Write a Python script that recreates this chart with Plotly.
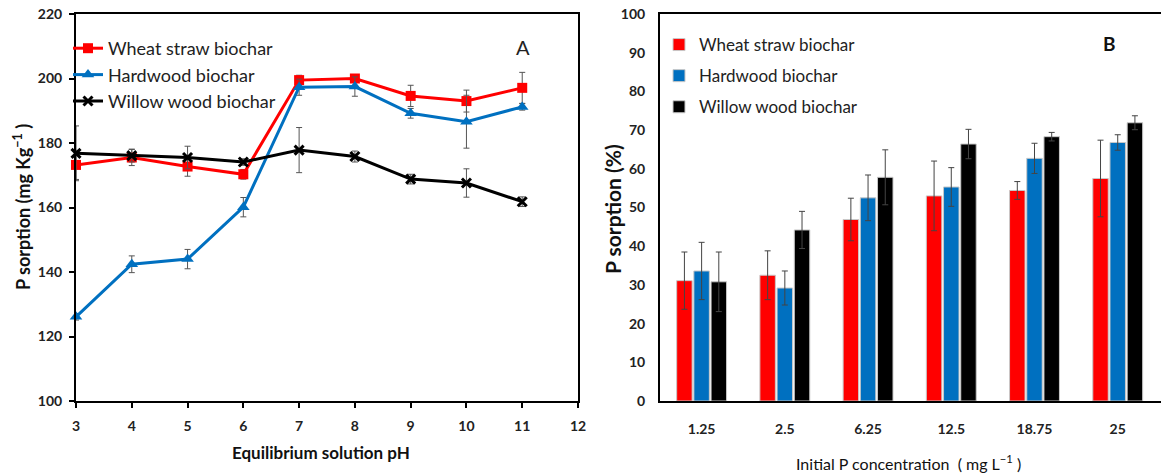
import plotly.graph_objects as go

# ---- Panel A: P sorption vs equilibrium solution pH ----
ph = [3, 4, 5, 6, 7, 8, 9, 10, 11]
wheat_a = [173.2, 175.5, 172.7, 170.3, 199.5, 200.0, 194.6, 193.0, 197.1]
wheat_a_err = [4.5, 2.5, 3.0, 1.5, 1.5, 1.0, 3.3, 3.4, 4.8]
hard_a = [126.1, 142.4, 144.0, 160.1, 197.3, 197.5, 189.2, 186.6, 191.2]
hard_a_err = [1.0, 2.6, 3.0, 3.0, 2.5, 3.0, 1.5, 8.2, 1.0]
willow_a = [176.8, 176.1, 175.5, 174.1, 177.8, 175.8, 168.8, 167.6, 161.8]
willow_a_err = [8.5, 2.0, 3.5, 1.0, 7.0, 1.7, 1.5, 4.4, 1.5]

# ---- Panel B: P sorption (%) vs initial P concentration ----
conc = ["1.25", "2.5", "6.25", "12.5", "18.75", "25"]
wheat_b = [31.1, 32.5, 46.9, 53.0, 54.4, 57.5]
wheat_b_err = [7.4, 6.3, 5.5, 9.0, 2.3, 9.9]
hard_b = [33.6, 29.2, 52.5, 55.3, 62.7, 66.8]
hard_b_err = [7.4, 4.4, 5.9, 5.0, 3.9, 2.0]
willow_b = [30.8, 44.2, 57.8, 66.4, 68.3, 71.9]
willow_b_err = [7.7, 4.8, 7.1, 3.8, 1.1, 1.8]

names = ["Wheat straw biochar", "Hardwood biochar", "Willow wood biochar"]
RED, BLUE, BLACK = "#FF0000", "#0070C0", "#000000"
FONT = "Lato, 'Open Sans', sans-serif"

W, H = 1161, 475
def px_x(p):
    return p / W
def px_y(p):
    return 1 - p / H

fig = go.Figure()

line_specs = [
    (wheat_a, wheat_a_err, RED, "square", 10),
    (hard_a, hard_a_err, BLUE, "triangle-up", 11),
    (willow_a, willow_a_err, BLACK, "x-thin", 9),
]
for (vals, errs, col, sym, sz), nm in zip(line_specs, names):
    fig.add_trace(go.Scatter(
        x=ph, y=vals, name=nm, mode="lines+markers",
        line=dict(color=col, width=3),
        marker=dict(symbol=sym, size=sz, color=col,
                    line=dict(color=col, width=3 if sym == "x-thin" else 0)),
        error_y=dict(type="data", array=errs, visible=True,
                     color="#555555", thickness=1, width=3),
        cliponaxis=False, xaxis="x", yaxis="y", legend="legend",
    ))

bar_specs = [(wheat_b, wheat_b_err, RED), (hard_b, hard_b_err, BLUE),
             (willow_b, willow_b_err, BLACK)]
for i, ((vals, errs, col), nm) in enumerate(zip(bar_specs, names)):
    fig.add_trace(go.Bar(
        x=conc, y=vals, name=nm, legendgroup=f"b{i}",
        marker=dict(color=col, line=dict(color="#C8C8C8", width=1)),
        error_y=dict(type="data", array=errs, visible=True,
                     color="#444444", thickness=1, width=3),
        xaxis="x2", yaxis="y2", legend="legend2",
    ))

tickfont = dict(family=FONT, size=14, color="#222222", weight="bold")
ydom = [px_y(401), px_y(14)]

fig.update_layout(
    width=W, height=H,
    margin=dict(l=0, r=0, t=0, b=0, autoexpand=False),
    paper_bgcolor="white", plot_bgcolor="white",
    font=dict(family=FONT, color="#111111"),
    barmode="group", bargap=0.38, bargroupgap=0.1,
    xaxis=dict(domain=[px_x(76), px_x(578)], range=[3, 12], dtick=1,
               showgrid=False, zeroline=False, showline=True, mirror=True,
               linecolor="black", linewidth=2, ticks="outside", ticklen=5,
               tickcolor="black", tickwidth=2, tickfont=tickfont,
               ticklabelstandoff=6, anchor="y", automargin=False),
    yaxis=dict(domain=ydom, range=[100, 220], dtick=20,
               showgrid=False, zeroline=False, showline=True, mirror=True,
               linecolor="black", linewidth=2, ticks="outside", ticklen=5,
               tickcolor="black", tickwidth=2, tickfont=tickfont,
               ticklabelstandoff=4, anchor="x", automargin=False),
    xaxis2=dict(domain=[px_x(660), 1.0], range=[-0.5, 5.52],
                type="category", categoryorder="array", categoryarray=conc,
                showgrid=False, zeroline=False, showline=True, mirror=True,
                linecolor="black", linewidth=2, ticks="outside", ticklen=14,
                tickcolor="rgba(0,0,0,0)", tickfont=tickfont, anchor="y2",
                automargin=False),
    yaxis2=dict(domain=ydom, range=[0, 100], dtick=10,
                showgrid=False, zeroline=False, showline=True, mirror=True,
                linecolor="black", linewidth=2, ticks="",
                tickfont=tickfont, ticklabelstandoff=10, anchor="x2",
                automargin=False),
    legend=dict(x=px_x(68), y=px_y(30), xanchor="left", yanchor="top",
                bgcolor="rgba(0,0,0,0)", tracegroupgap=0, itemwidth=30,
                font=dict(family=FONT, size=18, color="#222222")),
    legend2=dict(x=px_x(659), y=px_y(27), xanchor="left", yanchor="top",
                 bgcolor="rgba(0,0,0,0)", tracegroupgap=6, itemwidth=30,
                 font=dict(family=FONT, size=17, color="#222222")),
)

ann = [
    dict(text="A", x=px_x(523), y=px_y(47), font=dict(size=20, color="#222222")),
    dict(text="<b>B</b>", x=px_x(1109), y=px_y(43), font=dict(size=19, color="#111111")),
    dict(text="<b>P sorption (mg Kg<sup>−1</sup> )</b>", x=px_x(22), y=px_y(207),
         textangle=-90, font=dict(size=18, color="#111111")),
    dict(text="<b>Equilibrium solution pH</b>", x=px_x(321), y=px_y(452),
         font=dict(size=17, color="#111111")),
    dict(text="<b>P sorption (%)</b>", x=px_x(613), y=px_y(209),
         textangle=-90, font=dict(size=21, color="#111111")),
    dict(text="Initial P concentration  ( mg L<sup>−1</sup> )", x=px_x(908), y=px_y(462),
         font=dict(size=16, color="#111111")),
]
for a in ann:
    fig.add_annotation(xref="paper", yref="paper", showarrow=False,
                       xanchor="center", yanchor="middle", **a)

fig.write_html("out.html")
